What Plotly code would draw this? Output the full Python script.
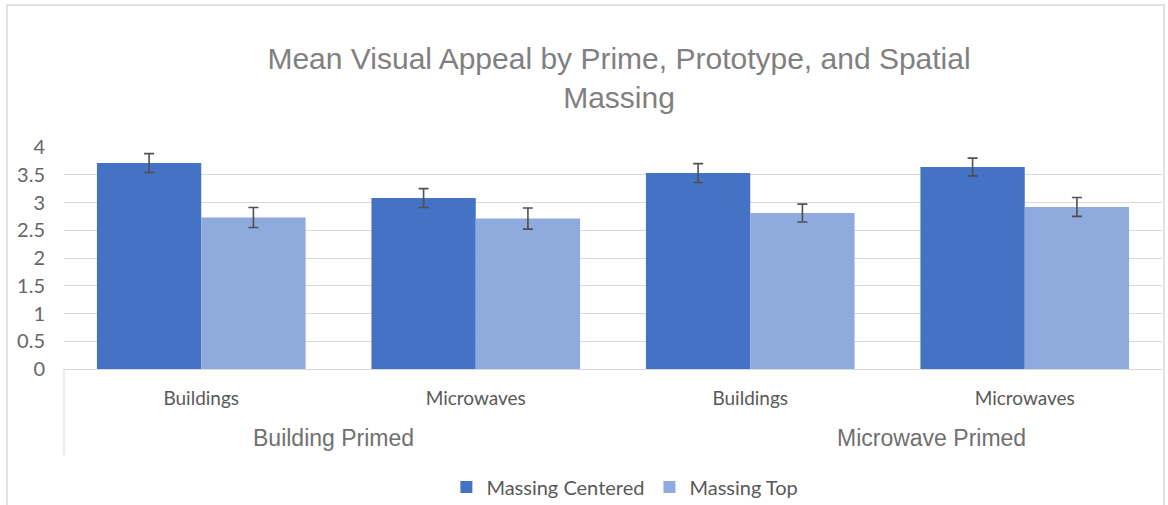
import plotly.graph_objects as go

primes = ["Building Primed", "Building Primed", "Microwave Primed", "Microwave Primed"]
prototypes = ["Buildings", "Microwaves", "Buildings", "Microwaves"]
series_names = ["Massing Centered", "Massing Top"]
centered_vals = [3.71, 3.08, 3.53, 3.64]
centered_err = [0.17, 0.17, 0.17, 0.16]
top_vals = [2.73, 2.71, 2.81, 2.92]
top_err = [0.18, 0.19, 0.16, 0.17]
y_ticks = [0, 0.5, 1, 1.5, 2, 2.5, 3, 3.5, 4]
group_labels = ["Building Primed", "Microwave Primed"]

ids = [f"{p} | {c}" for p, c in zip(primes, prototypes)]

fig = go.Figure()
for name, vals, errs, color in [
    (series_names[0], centered_vals, centered_err, "#4472C4"),
    (series_names[1], top_vals, top_err, "#8FAADC"),
]:
    fig.add_trace(go.Bar(
        x=ids, y=vals, name=name, marker=dict(color=color, line=dict(width=0)),
        error_y=dict(type="data", array=errs, visible=True, color="#505050",
                     thickness=1.6, width=5),
    ))

fig.update_layout(
    width=1168, height=505,
    margin=dict(l=64, r=6, t=147, b=136, autoexpand=False),
    paper_bgcolor="white", plot_bgcolor="white",
    barmode="group", bargap=0.24, bargroupgap=0,
    title=dict(text="Mean Visual Appeal by Prime, Prototype, and Spatial<br>Massing",
               x=0.53, xref="container", xanchor="center",
               y=1 - 69 / 505, yref="container", yanchor="top",
               font=dict(family="Liberation Sans", size=30, color="#808080")),
    legend=dict(orientation="h", x=0.535, xref="container", xanchor="center",
                y=1 - 487 / 505, yref="container", yanchor="middle",
                font=dict(family="Lato", size=20, color="#595959"),
                traceorder="normal", itemwidth=30),
    showlegend=True,
)
fig.update_yaxes(range=[0, 4], tickvals=y_ticks, ticktext=[f"{t:g}" for t in y_ticks],
                 showgrid=True, gridcolor="#d9d9d9", gridwidth=1, zeroline=False,
                 showline=False, ticks="outside", ticklen=14, tickcolor="rgba(0,0,0,0)",
                 automargin=False,
                 tickfont=dict(family="Lato", size=20, color="#666666"))
fig.update_xaxes(type="category", tickvals=ids, ticktext=prototypes,
                 showline=True, linecolor="#d9d9d9", linewidth=1,
                 ticks="outside", ticklen=12, tickcolor="rgba(0,0,0,0)",
                 automargin=False,
                 tickfont=dict(family="Lato", size=19, color="#595959"))

# group labels
for lbl, xpos in zip(group_labels, [0.48, 2.66]):
    fig.add_annotation(text=lbl, x=xpos, xref="x", y=-(438 - 369) / 222, yref="paper",
                       showarrow=False, yanchor="middle",
                       font=dict(family="Liberation Sans", size=23, color="#707070"))

# left divider of the category axis
fig.add_shape(type="line", xref="paper", yref="paper", x0=0, x1=0, y0=0,
              y1=-(455 - 369) / 222, line=dict(color="#d9d9d9", width=1))
# outer chart border
fig.add_shape(type="rect", xref="paper", yref="paper",
              x0=(7 - 64) / 1098, x1=(1164 - 64) / 1098,
              y0=-(520 - 369) / 222, y1=(369 - 5) / 222,
              line=dict(color="#d9d9d9", width=1.5), layer="below")

fig.write_html("out.html", config={"displayModeBar": False},
               post_script="document.body.style.margin='0';document.body.style.padding='0';")
